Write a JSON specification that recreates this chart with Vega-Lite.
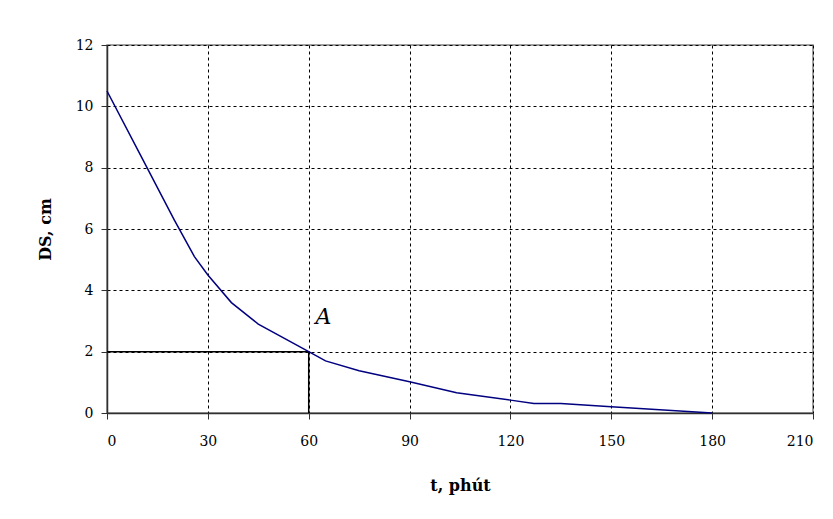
{
  "$schema": "https://vega.github.io/schema/vega-lite/v6.json",
  "width": 706,
  "height": 368,
  "autosize": "none",
  "padding": {"left": 107, "top": 45, "right": 20, "bottom": 106},
  "background": "white",
  "config": {
    "font": "DejaVu Serif",
    "view": {"stroke": "#808080", "strokeWidth": 1.5},
    "axis": {
      "grid": true,
      "gridColor": "black",
      "gridDash": [3, 3],
      "gridWidth": 1,
      "gridOpacity": 1,
      "domainColor": "#303030",
      "domainWidth": 1.5,
      "tickColor": "#303030",
      "tickSize": 6,
      "labelFont": "DejaVu Serif",
      "labelFontSize": 14,
      "labelColor": "black",
      "titleFont": "DejaVu Serif",
      "titleFontSize": 16,
      "titleFontWeight": "bold",
      "titleColor": "black"
    }
  },
  "datasets": {
    "curve": [
      {"t": 0, "ds": 10.5},
      {"t": 10, "ds": 8.4},
      {"t": 20, "ds": 6.3},
      {"t": 26, "ds": 5.1},
      {"t": 30, "ds": 4.5},
      {"t": 37, "ds": 3.6},
      {"t": 45, "ds": 2.9},
      {"t": 60, "ds": 2.0},
      {"t": 65, "ds": 1.7},
      {"t": 75, "ds": 1.38},
      {"t": 90, "ds": 1.02},
      {"t": 104, "ds": 0.66},
      {"t": 120, "ds": 0.42},
      {"t": 127, "ds": 0.31},
      {"t": 135, "ds": 0.31},
      {"t": 150, "ds": 0.2},
      {"t": 180, "ds": 0}
    ],
    "guide": [
      {"t": 0, "ds": 2, "g": "h"},
      {"t": 60, "ds": 2, "g": "h"},
      {"t": 60, "ds": 0, "g": "v"},
      {"t": 60, "ds": 2, "g": "v"}
    ],
    "label": [
      {"t": 62, "ds": 2.75, "text": "A"}
    ]
  },
  "layer": [
    {
      "data": {"name": "guide"},
      "mark": {"type": "line", "color": "black", "strokeWidth": 1.5},
      "encoding": {
        "x": {"field": "t", "type": "quantitative", "scale": {"domain": [0, 210], "nice": false}, "axis": {"values": [0, 30, 60, 90, 120, 150, 180, 210], "title": "t, phút", "titlePadding": 29, "labelPadding": 15}},
        "y": {"field": "ds", "type": "quantitative", "scale": {"domain": [0, 12], "nice": false}, "axis": {"values": [0, 2, 4, 6, 8, 10, 12], "title": "DS, cm", "titlePadding": 22, "labelPadding": 8}},
        "detail": {"field": "g"}
      }
    },
    {
      "data": {"name": "curve"},
      "mark": {"type": "line", "color": "#000080", "strokeWidth": 1.5},
      "encoding": {
        "x": {"field": "t", "type": "quantitative"},
        "y": {"field": "ds", "type": "quantitative"}
      }
    },
    {
      "data": {"name": "label"},
      "mark": {"type": "text", "font": "DejaVu Serif", "fontStyle": "italic", "fontSize": 22, "align": "left", "baseline": "bottom", "color": "black"},
      "encoding": {
        "x": {"field": "t", "type": "quantitative"},
        "y": {"field": "ds", "type": "quantitative"},
        "text": {"field": "text"}
      }
    }
  ]
}
